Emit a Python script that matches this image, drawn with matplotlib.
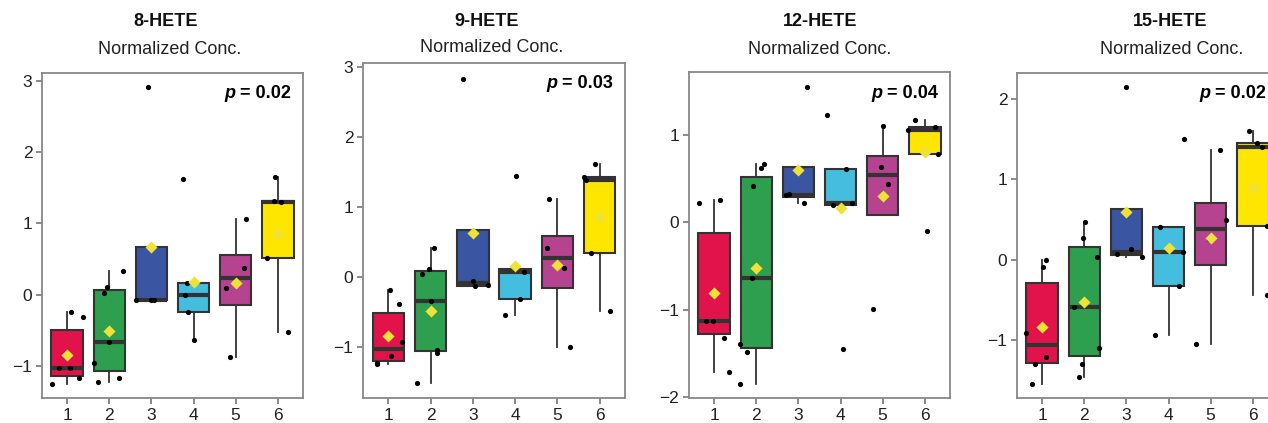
import matplotlib
matplotlib.use('Agg')
import matplotlib.pyplot as plt
from matplotlib.offsetbox import TextArea, HPacker, AnchoredOffsetbox

plt.rcParams['font.family'] = ['Liberation Sans', 'DejaVu Sans']

grupos = [1, 2, 3, 4, 5, 6]
cores = ['#E2134B', '#2E9F4E', '#3A55A2', '#45BDDF', '#B5438F', '#FFE600']
titulos = ['8-HETE', '9-HETE', '12-HETE', '15-HETE']
p_valores = ['0.02', '0.03', '0.04', '0.02']

# valores, um array por grupo
hete8 = [
    [-1.25, -0.25, -0.31, -1.03, -1.03, -1.17],
    [-0.96, -1.23, 0.02, 0.11, -0.66, -1.17, 0.33],
    [-0.08, -0.07, -0.07, 2.91],
    [1.62, 0.16, 0.0, -0.25, -0.64],
    [0.10, -0.88, 0.38, 1.06],
    [1.65, 1.32, 1.30, 0.52, -0.52],
]
hete9 = [
    [-1.25, -1.23, -0.18, -0.38, -1.13, -0.93],
    [-1.52, 0.05, 0.11, -0.35, 0.42, -1.04, -1.08],
    [2.83, -0.055, -0.13, -0.12],
    [1.45, -0.55, -0.32, 0.065, 0.11],
    [0.42, 1.11, 0.13, -1.0],
    [1.62, 1.43, 1.38, 0.35, -0.49],
]
hete12 = [
    [0.22, 0.25, -1.13, -1.13, -1.32, -1.71],
    [-1.85, -1.39, -1.48, -0.64, 0.41, 0.62, 0.67],
    [1.554, 0.312, 0.32, 0.217],
    [1.23, 0.198, 0.606, 0.217, -1.446],
    [1.103, 0.637, 0.438, -0.987],
    [1.168, 1.057, 1.096, 0.782, -0.104],
]
hete15 = [
    [-0.917, -1.54, -1.303, -0.087, -0.004, -1.207],
    [-0.593, -1.456, -1.299, 0.274, 0.465, 0.037, -1.095],
    [2.145, 0.066, 0.129, 0.037],
    [1.50, 0.402, 0.091, -0.324, -0.938],
    [-1.054, 0.257, 1.357, 0.494],
    [1.593, 1.456, 1.398, 0.423, -0.44],
]

# deslocamento horizontal (jitter) de cada ponto
jit8 = [
    [-0.37, 0.08, 0.38, -0.20, 0.06, 0.29],
    [-0.37, -0.27, -0.13, -0.06, 0.0, 0.24, 0.33],
    [-0.37, -0.01, 0.05, -0.09],
    [-0.25, -0.15, -0.20, -0.12, 0.0],
    [-0.22, -0.14, 0.19, 0.25],
    [-0.06, -0.10, 0.08, -0.26, 0.24],
]
jit9 = [
    [-0.26, -0.28, 0.04, 0.26, 0.06, 0.32],
    [-0.33, -0.21, -0.04, 0.01, 0.08, 0.15, 0.15],
    [-0.24, 0.0, 0.04, 0.36],
    [0.03, -0.24, 0.12, 0.22, 0.0],
    [-0.25, -0.21, 0.15, 0.31],
    [-0.10, -0.38, -0.33, -0.21, 0.24],
]
jit12 = [
    [-0.36, 0.13, -0.20, -0.03, 0.24, 0.36],
    [-0.39, -0.38, -0.23, -0.11, -0.08, 0.11, 0.19],
    [0.20, -0.29, -0.22, 0.14],
    [-0.33, -0.17, 0.12, 0.28, 0.06],
    [0.0, -0.04, 0.13, -0.24],
    [-0.24, -0.39, 0.24, 0.32, 0.06],
]
jit15 = [
    [-0.38, -0.25, -0.17, 0.01, 0.08, 0.09],
    [-0.25, -0.12, -0.06, -0.03, 0.02, 0.31, 0.34],
    [-0.01, -0.23, 0.10, 0.37],
    [0.37, -0.21, 0.34, 0.26, -0.32],
    [-0.34, -0.04, 0.22, 0.37],
    [-0.09, 0.10, 0.22, 0.34, 0.34],
]

dados = [hete8, hete9, hete12, hete15]
jitters = [jit8, jit9, jit12, jit15]
limites_y = [(-1.45, 3.11), (-1.73, 3.06), (-2.01, 1.72), (-1.72, 2.32)]
ticks_y = [[-1, 0, 1, 2, 3], [-1, 0, 1, 2, 3], [-2, -1, 0, 1], [-1, 0, 1, 2]]

W, H = 1268, 423
fig = plt.figure(figsize=(W / 100, H / 100), dpi=100)

# posicoes dos paineis em pixels: esquerda, direita, topo
caixas = [(42, 303, 73), (363, 625, 63), (689, 950, 72), (1017, 1278, 73)]
base = 398
centros_titulo = [(166, 170), (487, 492), (820, 820), (1170, 1172)]
altura_sub = [50, 48, 50, 50]

for i in range(4):
    esq, dir_, topo = caixas[i]
    ax = fig.add_axes([esq / W, (H - base) / H, (dir_ - esq) / W, (base - topo) / H])
    grupo_dados = dados[i]

    bp = ax.boxplot(grupo_dados, positions=grupos, widths=0.75, patch_artist=True,
                    showfliers=False, whis=1.5,
                    medianprops=dict(color='#333333', linewidth=3.0),
                    whiskerprops=dict(color='#333333', linewidth=1.3),
                    capprops=dict(linewidth=0),
                    boxprops=dict(edgecolor='#333333', linewidth=1.5))
    for patch, cor in zip(bp['boxes'], cores):
        patch.set_facecolor(cor)

    # pontos individuais
    for g, vals, jit in zip(grupos, grupo_dados, jitters[i]):
        ax.scatter([g + j for j in jit], vals, s=14, color='black', zorder=4, linewidths=0)

    # media
    medias = [sum(v) / len(v) for v in grupo_dados]
    ax.scatter(grupos, medias, marker='D', s=38, color='#EEE236', zorder=5, linewidths=0)

    ax.set_xlim(0.4, 6.6)
    ax.set_ylim(*limites_y[i])
    ax.set_xticks(grupos)
    ax.set_yticks(ticks_y[i])
    ax.tick_params(labelsize=12.5, colors='#777777', labelcolor='#222222', length=4, width=1.2, pad=3)
    for s in ax.spines.values():
        s.set_color('#888888')
        s.set_linewidth(1.3)

    # p-valor com p em italico
    caixa_p = HPacker(children=[
        TextArea('p', textprops=dict(fontsize=13, fontweight='bold', fontstyle='italic')),
        TextArea('= ' + p_valores[i], textprops=dict(fontsize=13, fontweight='bold')),
    ], align='baseline', pad=0, sep=3)
    anc = AnchoredOffsetbox(loc='upper right', child=caixa_p, frameon=False,
                            pad=0, borderpad=0.9)
    ax.add_artist(anc)

    cx1, cx2 = centros_titulo[i]
    fig.text(cx1 / W, 1 - 21 / H, titulos[i], ha='center', va='center',
             fontsize=13, fontweight='bold', color='#111111')
    fig.text(cx2 / W, 1 - altura_sub[i] / H, 'Normalized Conc.', ha='center', va='center',
             fontsize=13, color='#222222')

fig.savefig('out.png', dpi=100)
